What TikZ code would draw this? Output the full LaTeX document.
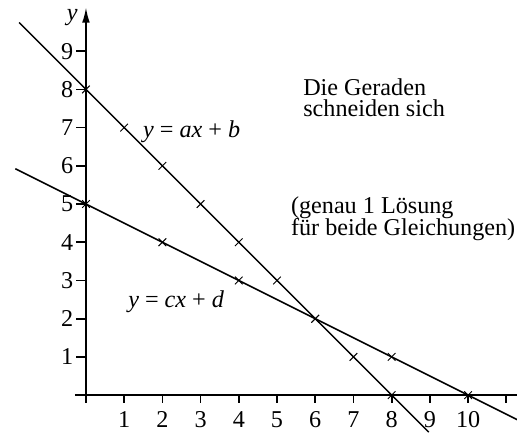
\documentclass[tikz,border=0pt]{standalone}
\usepackage{fontspec}
\setmainfont{Liberation Serif}
\usetikzlibrary{arrows.meta}

\begin{document}
\begin{tikzpicture}[x=1cm, y=1cm, font=\fontsize{18}{17}\selectfont,
  axis/.style={line width=1.3pt},
  graph/.style={line width=1.1pt},
  cross/.style={line width=0.7pt},
  txt/.style={anchor=base west, inner sep=0pt}]

\useasboundingbox (-2.25,-1.05) rectangle (11.28,10.34);

% Axes
\coordinate (xstart) at (-0.29,0);
\coordinate (xend) at (11.3,0);
\coordinate (ystart) at (0,-0.18);
\coordinate (ytop) at (0,10.15);
\draw[axis] (xstart) -- (xend);
\draw[axis, -{Latex[length=4mm,width=2mm]}] (ystart) -- (ytop);
\node (ylab) at (-0.36,9.88) {\textit{y}};

% Ticks and numbers
\foreach \i in {1,...,9} {
  \draw[axis] (-0.25,\i) -- (0,\i);
  \node[anchor=east, inner sep=0pt] (ynum\i) at (-0.33,\i) {\i};
}
\foreach \i in {0,...,11}
  \draw[axis] (\i,0) -- (\i,-0.2);
\foreach \i in {1,...,10}
  \node[anchor=base, inner sep=0pt] (xnum\i) at (\i,-0.84) {\i};

% The two lines
\coordinate (ab1) at (-1.75,9.75);
\coordinate (ab2) at (8.97,-0.97);
\coordinate (cd1) at (-1.85,5.925);
\coordinate (cd2) at (11.3,-0.65);
\draw[graph] (ab1) -- (ab2);
\draw[graph] (cd1) -- (cd2);

% Value pairs
\foreach \i in {0,...,8}
  \draw[cross] (\i,8-\i) +(-0.1,-0.1) -- +(0.1,0.1) +(-0.1,0.1) -- +(0.1,-0.1);
\foreach \i in {0,2,...,10}
  \draw[cross] (\i,5-\i/2) +(-0.1,-0.1) -- +(0.1,0.1) +(-0.1,0.1) -- +(0.1,-0.1);

% Labels
\node[txt] (eqab) at (1.49,6.75) {\textit{y} = \textit{ax} + \textit{b}};
\node[txt] (eqcd) at (1.1,2.3) {\textit{y} = \textit{cx} + \textit{d}};
\node[txt] (note1a) at (5.68,7.85) {Die Geraden};
\node[txt] (note1b) at (5.68,7.28) {schneiden sich};
\node[txt] (note2a) at (5.36,4.76) {(genau 1 Lösung};
\node[txt] (note2b) at (5.36,4.19) {für beide Gleichungen)};

\end{tikzpicture}
\end{document}
